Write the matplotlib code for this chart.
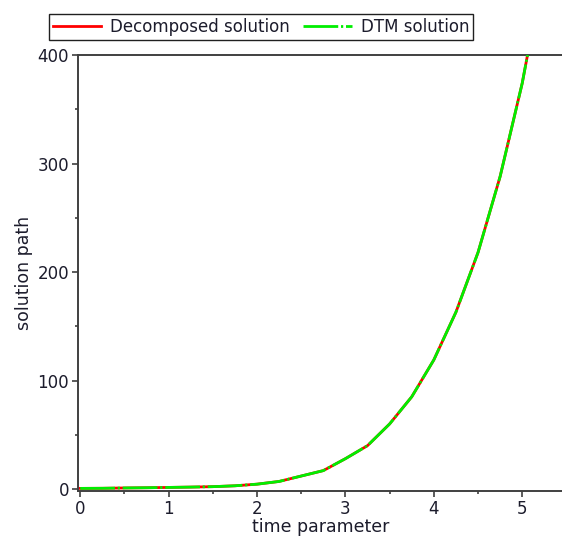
import matplotlib
matplotlib.use("Agg")
import matplotlib.pyplot as plt
from matplotlib.ticker import MultipleLocator

# ---------------------------------------------------------------------------
#  Data
# ---------------------------------------------------------------------------
t_values = [0.0, 0.25, 0.5, 0.75, 1.0, 1.25, 1.5, 1.75, 2.0, 2.25, 2.5, 2.75,
            3.0, 3.25, 3.5, 3.75, 4.0, 4.25, 4.5, 4.75, 5.0, 5.06]
decomposed = [0.6, 0.7, 1.0, 1.2, 1.5, 1.8, 2.2, 3.0, 4.5, 7.0, 12.0, 17.0,
              28.0, 40.0, 60.0, 85.0, 119.0, 163.0, 218.0, 288.0, 374.0, 400.0]
dtm = [0.6, 0.7, 1.0, 1.2, 1.5, 1.8, 2.2, 3.0, 4.5, 7.0, 12.0, 17.0,
       28.0, 40.0, 60.0, 85.0, 119.0, 163.0, 218.0, 288.0, 374.0, 400.0]

X_TICKS = [0, 1, 2, 3, 4, 5]
Y_TICKS = [0, 100, 200, 300, 400]

TEXT_COLOR = "#1c1c2c"
AXIS_COLOR = "#404040"
FS = 12

plt.rcParams["font.family"] = ["DejaVu Sans"]

fig = plt.figure(figsize=(5.62, 5.38), dpi=100)
ax = fig.add_axes([78 / 562, 47 / 538, 484 / 562, 436 / 538])

ax.plot(t_values, decomposed, color="#ff0000", linewidth=2.0,
        linestyle="-", label="Decomposed solution", zorder=2)
ax.plot(t_values, dtm, color="#00ee00", linewidth=2.0,
        linestyle=(0, (12.5, 1.0, 0.8, 1.0)), label="DTM solution", zorder=3)

ax.set_xlim(-0.025, 5.45)
ax.set_ylim(-1.8, 400)
ax.set_xticks(X_TICKS)
ax.set_yticks(Y_TICKS)
ax.xaxis.set_minor_locator(MultipleLocator(0.5))
ax.yaxis.set_minor_locator(MultipleLocator(50))

for side in ["left", "bottom", "top"]:
    ax.spines[side].set_color(AXIS_COLOR)
    ax.spines[side].set_linewidth(1.4)
ax.spines["right"].set_visible(False)

ax.tick_params(which="major", direction="out", length=4.5, width=1.2,
               color=AXIS_COLOR, labelsize=FS, labelcolor=TEXT_COLOR, pad=2)
ax.tick_params(which="minor", direction="out", length=2.5, width=1.2,
               color=AXIS_COLOR)
ax.tick_params(top=False, right=False, which="both")

fig.text(321 / 562, 1 - 527 / 538, "time parameter", ha="center", va="center",
         fontsize=12.5, color=TEXT_COLOR)
fig.text(24 / 562, 1 - 273 / 538, "solution path", ha="center", va="center",
         rotation=90, fontsize=12.5, color=TEXT_COLOR)

leg = fig.legend(loc="center", bbox_to_anchor=(261 / 562, 1 - 27 / 538),
                 ncol=2, fontsize=FS, frameon=True, fancybox=False,
                 edgecolor="#202020", framealpha=1.0, handlelength=2.9,
                 columnspacing=0.8, handletextpad=0.55, borderpad=0.25,
                 borderaxespad=0.0)
leg.get_frame().set_linewidth(1.0)
for txt in leg.get_texts():
    txt.set_color(TEXT_COLOR)

fig.savefig("out.png", dpi=100)
